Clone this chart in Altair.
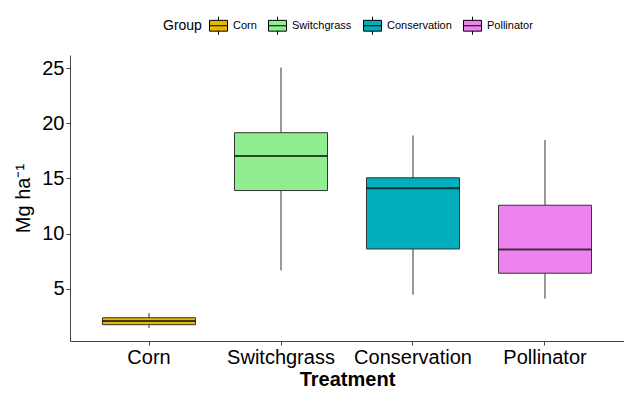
import altair as alt
import pandas as pd

groups = ["Corn", "Switchgrass", "Conservation", "Pollinator"]
lower = [1.43, 6.66, 4.45, 4.1]
q1 = [1.73, 13.9, 8.6, 6.4]
median = [2.06, 17.03, 14.1, 8.55]
q3 = [2.36, 19.15, 15.06, 12.57]
upper = [2.78, 25.06, 18.9, 18.5]
colors = ["#E7B800", "#90EE90", "#00AFBB", "#EE82EE"]
y_ticks = [5, 10, 15, 20, 25]

df = pd.DataFrame({"Group": groups, "lower": lower, "q1": q1,
                   "median": median, "q3": q3, "upper": upper})

FONT = "Liberation Sans"

xscale = alt.Scale(domain=groups, paddingInner=0.295, paddingOuter=0.246, align=0.5)
yscale = alt.Scale(domain=[0.25, 26.2], nice=False, zero=False)

xenc = alt.X("Group:N", scale=xscale, sort=groups,
             axis=alt.Axis(title="Treatment", labelAngle=0, labelFontSize=20,
                           titleFontSize=20, titleFontWeight="bold", tickSize=4,
                           labelPadding=2, titlePadding=2, labelColor="black",
                           titleColor="black", domainColor="#444", tickColor="#444",
                           labelFont=FONT, titleFont=FONT))

base = alt.Chart(df)

whisk = base.mark_rule(color="#333", strokeWidth=1).encode(
    x=xenc,
    y=alt.Y("lower:Q", scale=yscale,
            axis=alt.Axis(title="Mg ha⁻¹", values=y_ticks, grid=False,
                          labelFontSize=20, titleFontSize=20, titleFontWeight="normal",
                          tickSize=4, labelPadding=2, titlePadding=8,
                          labelColor="black", titleColor="black",
                          domainColor="#444", tickColor="#444",
                          labelFont=FONT, titleFont=FONT)),
    y2="upper:Q",
)

box = base.mark_bar(stroke="#333", strokeWidth=1).encode(
    x=xenc,
    y=alt.Y("q1:Q", scale=yscale),
    y2="q3:Q",
    fill=alt.Fill("Group:N", sort=groups,
                  scale=alt.Scale(domain=groups, range=colors),
                  legend=alt.Legend(
                      title="Group", orient="none", direction="horizontal",
                      legendX=93, legendY=-39, titleOrient="left",
                      titleFontSize=14, titleFontWeight="normal", titleFont=FONT,
                      titleColor="black", labelFont=FONT, labelFontSize=11,
                      labelColor="black", titlePadding=7, labelOffset=5,
                      columnPadding=9, symbolSize=324, symbolStrokeColor="black",
                      symbolStrokeWidth=1, symbolOpacity=1,
                      symbolType="M-1,-0.6H1V0.6H-1Z M-1,0H1 M0,-0.6V-1 M0,0.6V1")),
)

med = base.mark_tick(color="black", thickness=2, size=93, orient="horizontal").encode(
    x=xenc,
    y=alt.Y("median:Q", scale=yscale),
)

chart = alt.layer(whisk, box, med).properties(
    width=554, height=286,
    autosize=alt.AutoSizeParams(type="none"),
    padding={"left": 62, "top": 47, "right": 0, "bottom": 47},
).configure(font=FONT).configure_view(strokeWidth=0, stroke=None)

chart.save("out.html", embed_options={"renderer": "svg", "actions": False})
